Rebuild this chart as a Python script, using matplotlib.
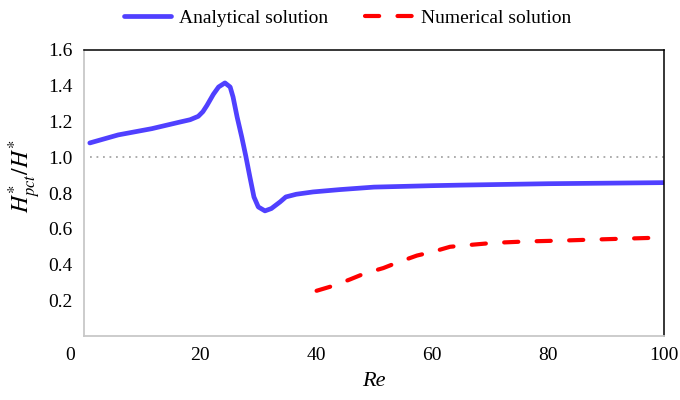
import matplotlib
matplotlib.use("Agg")
import matplotlib.pyplot as plt
from matplotlib.transforms import ScaledTranslation

plt.rcParams['font.family'] = ['Liberation Serif', 'DejaVu Serif']
plt.rcParams['mathtext.fontset'] = 'stix'

# Analytical solution
re_analytical = [1.0, 5.9, 11.7, 16.55, 18.3, 19.7, 20.5, 21.2, 22.3, 23.2, 24.3, 25.2,
                 25.7, 26.4, 27.2, 27.9, 28.6, 29.3, 30.05, 31.2, 32.3, 33.8, 34.8,
                 36.6, 39.5, 44.1, 50, 60, 64.8, 80, 100]
h_analytical = [1.08, 1.125, 1.16, 1.197, 1.21, 1.229, 1.255, 1.29, 1.352, 1.393, 1.416, 1.393,
                1.337, 1.225, 1.113, 1.006, 0.89, 0.778, 0.722, 0.70, 0.713, 0.75, 0.778,
                0.793, 0.806, 0.819, 0.833, 0.841, 0.844, 0.852, 0.858]

# Numerical solution
re_numerical = [40.1, 43.0, 45.9, 48.4, 51.6, 54.2, 57.4, 60.0, 63.1, 66.0,
                70.6, 76.3, 82.6, 88.4, 94.7, 100.0]
h_numerical = [0.253, 0.281, 0.317, 0.35, 0.38, 0.413, 0.45, 0.47, 0.499, 0.508,
               0.521, 0.529, 0.534, 0.540, 0.546, 0.551]

ref_x = [1.0, 100.0]
ref_y = [1.0, 1.0]

x_ticks = [0, 20, 40, 60, 80, 100]
y_ticks = [0.2, 0.4, 0.6, 0.8, 1.0, 1.2, 1.4, 1.6]

fig = plt.figure(figsize=(6.8, 4.0), dpi=100)
ax = fig.add_axes([84/680, 64/400, 580/680, 286/400])

ax.plot(ref_x, ref_y, color='#A6A6A6', lw=1.3, linestyle=(0, (1, 2.6)))
ax.plot(re_analytical, h_analytical, color='#5040FF', lw=3.4,
        solid_capstyle='round', solid_joinstyle='round', label='Analytical solution')
ax.plot(re_numerical, h_numerical, color='#FF0000', lw=3.0, dashes=(3.4, 4.4),
        dash_capstyle='round', label='Numerical solution')

ax.set_xlim(0, 100)
ax.set_ylim(0, 1.6)
ax.set_xticks(x_ticks)
ax.set_xticklabels([str(v) for v in x_ticks])
ax.set_yticks(y_ticks)
ax.set_yticklabels([f'{v:.1f}' for v in y_ticks])
ax.tick_params(length=0, labelsize=14, colors='black')
ax.tick_params(axis='x', pad=8)
ax.tick_params(axis='y', pad=8)

# shift the corner "0" label left
lbl = ax.get_xticklabels()[0]
lbl.set_transform(lbl.get_transform() + ScaledTranslation(-0.14, 0, fig.dpi_scale_trans))

for s in ['left', 'bottom']:
    ax.spines[s].set_color('#C8C8C8')
    ax.spines[s].set_linewidth(1.3)
for s in ['top', 'right']:
    ax.spines[s].set_color('#000000')
    ax.spines[s].set_linewidth(1.1)

ax.set_xlabel('Re', fontsize=16, style='italic', labelpad=6)
ax.set_ylabel(r'$H^{*}_{pct}/H^{*}$', fontsize=17)
ax.yaxis.set_label_coords(-0.071, 0.559)

fig.legend(loc='center', bbox_to_anchor=(0.511, 0.955), ncol=2, frameon=False,
           fontsize=14, handlelength=2.4, handletextpad=0.45, columnspacing=1.9)

fig.savefig('out.png', dpi=100)
